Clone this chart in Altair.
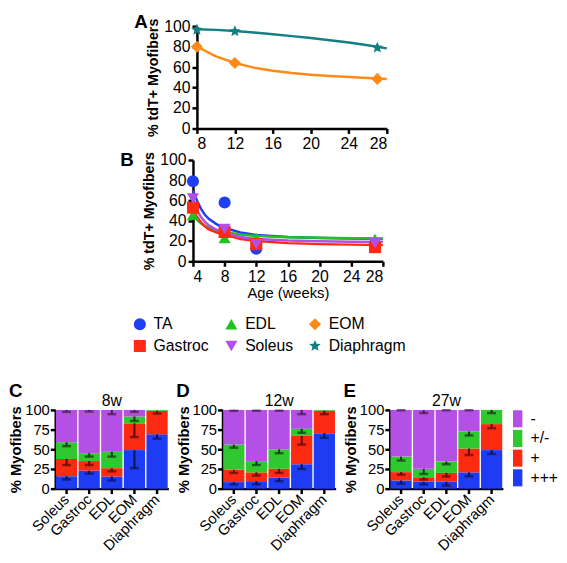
import altair as alt
import pandas as pd

FONT = "Liberation Sans"

# ---------------- Panel A (EOM, Diaphragm) ----------------
a_weeks = [8, 12, 27]
a_eom = [80, 64, 48.5]
a_dia = [96.5, 95, 79]
# fitted curves
a_curve_weeks = [8, 10, 12, 14, 16, 18, 20, 22, 24, 26, 28]
a_curve_eom = [80, 70.5, 64, 59.5, 56.5, 54.3, 52.6, 51.4, 50.3, 49.3, 48.3]
a_curve_dia = [97, 96.4, 95.3, 93.8, 92.2, 90.3, 88.4, 86.3, 84, 81.3, 78.3]

# ---------------- Panel B (TA, EDL, Gastroc, Soleus) ----------------
b_weeks = [4, 8, 12, 27]
b_ta = [79, 58, 12.5, 17]
b_edl = [46, 23, 23, 22]
b_gastroc = [53, 29, 17, 14]
b_soleus = [62, 32, 17, 18]
b_curve_weeks = [4, 4.5, 5, 5.5, 6, 7, 8, 10, 12, 16, 20, 24, 28]
b_curve_ta = [70, 60, 52, 46, 42, 36.5, 33, 28.5, 26, 24, 23, 22.5, 22]
b_curve_edl = [46, 41, 37.5, 35, 33, 30.5, 29, 26.5, 25, 23.8, 23.2, 22.8, 22.5]
b_curve_soleus = [60, 50, 44, 39, 35.5, 31, 28.5, 24, 22, 20.5, 19.8, 19.3, 19]
b_curve_gastroc = [52, 44, 38.5, 34.5, 31.5, 28.5, 26.5, 22, 20, 18, 17, 16.5, 16]

muscles = ["TA", "EDL", "EOM", "Gastroc", "Soleus", "Diaphragm"]
muscle_colors = ["#1f3ff5", "#1fc21f", "#ff8a1a", "#ff2a12", "#b44fe6", "#147f82"]
STAR = ("M0,-1L0.265,-0.364L0.951,-0.309L0.428,0.139L0.588,0.809L0,0.45"
        "L-0.588,0.809L-0.428,0.139L-0.951,-0.309L-0.265,-0.364Z")
muscle_shapes = ["circle", "triangle-up", "diamond", "square", "triangle-down", STAR]

# ---------------- Panels C-E (stacked bars) ----------------
bar_muscles = ["Soleus", "Gastroc", "EDL", "EOM", "Diaphragm"]
cats = ["+++", "+", "+/-", "-"]
cat_colors = ["#1f3cf5", "#fb2a10", "#2fc82f", "#b450e6"]
cat_dark = ["#0c1450", "#5a0a0a", "#0f3a10", "#4a1a5a"]

# segment sizes (%), per muscle, bottom (+++) to top (-)
w8_pos3 = [15.8, 22.8, 15.4, 49, 69]
w8_pos1 = [22, 12.2, 10.6, 34, 30]
w8_mid = [21.2, 10, 21, 8.7, 1]
w8_neg = [41, 55, 53, 8.3, 0]
w8_err = [[4.2, 3.8, 5, 23, 5.5], [7.8, 5, 4, 17.5, 3.6], [5, 4.3, 6.3, 5.7, 0], [2.5, 2, 5.4, 2.5, 0]]

w12_pos3 = [8.3, 9.5, 13.7, 31, 70.5]
w12_pos1 = [15.7, 11.2, 11.6, 36, 28.5]
w12_mid = [32, 14.3, 24.7, 9, 1]
w12_neg = [44, 65, 50, 24, 0]
w12_err = [[2.9, 4.1, 4.2, 6, 5.8], [4, 4.1, 5.3, 11, 4.4], [4, 5, 5, 5, 0], [1.2, 1, 1, 5.4, 0]]

w27_pos3 = [10.4, 8.7, 8.7, 20.7, 49]
w27_pos1 = [10.6, 5.8, 11.3, 30.3, 33]
w27_mid = [19.7, 10.8, 14.4, 21.6, 18]
w27_neg = [59.3, 74.7, 65.6, 27.4, 0]
w27_err = [[4.2, 3.3, 4.7, 4.9, 5], [3.2, 2.9, 4.6, 8.3, 5.2], [5, 6.6, 3.4, 5, 4], [0.4, 4, 0.4, 0.4, 0]]

IND = dict(color="independent", shape="independent", fill="independent", stroke="independent")

cscale = alt.Scale(domain=muscles, range=muscle_colors)
sscale = alt.Scale(domain=muscles, range=muscle_shapes)


def line_frame(weeks, series):
    rows = []
    for name, vals in series:
        for w, v in zip(weeks, vals):
            rows.append({"week": w, "pct": v, "muscle": name})
    return pd.DataFrame(rows)


def time_panel(pts, curve, xdom, xvals, letter, legend, xtitle, h, toff):
    x = alt.X("week:Q", scale=alt.Scale(domain=xdom, nice=False, zero=False),
              axis=alt.Axis(values=xvals, title=xtitle, titleFontWeight="normal",
                            titleFontSize=15, labelFontSize=16, titlePadding=2))
    y = alt.Y("pct:Q", scale=alt.Scale(domain=[0, 100], nice=False),
              axis=alt.Axis(values=[0, 20, 40, 60, 80, 100], title="% tdT+ Myofibers",
                            labelFontSize=16, titleFontSize=14.5, titleFontWeight="bold"))
    lines = alt.Chart(curve).mark_line(strokeWidth=2.5).encode(
        x=x, y=y, color=alt.Color("muscle:N", scale=cscale, legend=legend), detail="muscle:N")
    points = alt.Chart(pts).mark_point(filled=True, size=150, opacity=1).encode(
        x=x, y=y,
        color=alt.Color("muscle:N", scale=cscale, legend=legend),
        shape=alt.Shape("muscle:N", scale=sscale, legend=legend))
    return alt.layer(lines, points).properties(
        width=193, height=h,
        title=alt.TitleParams(letter, anchor="start", frame="bounds", fontSize=19,
                              fontWeight="bold", dx=-12, offset=toff))


dfA_pts = line_frame(a_weeks, [("EOM", a_eom), ("Diaphragm", a_dia)])
dfA_cur = line_frame(a_curve_weeks, [("EOM", a_curve_eom), ("Diaphragm", a_curve_dia)])
dfB_pts = line_frame(b_weeks, [("TA", b_ta), ("EDL", b_edl), ("Gastroc", b_gastroc), ("Soleus", b_soleus)])
dfB_cur = line_frame(b_curve_weeks, [("TA", b_curve_ta), ("EDL", b_curve_edl),
                                     ("Gastroc", b_curve_gastroc), ("Soleus", b_curve_soleus)])

legB = alt.Legend(orient="none", legendX=-62, legendY=159, columns=3, direction="horizontal",
                  title=None, symbolSize=150, labelFontSize=16, columnPadding=14, rowPadding=6,
                  labelOffset=6, symbolStrokeWidth=0)

chartA = time_panel(dfA_pts, dfA_cur, [8, 28], [8, 12, 16, 20, 24, 28], "A", None, None, 104, -14)
chartB = time_panel(dfB_pts, dfB_cur, [4, 28], [4, 8, 12, 16, 20, 24, 28], "B", legB,
                    "Age (weeks)", 103, -19)


def spacer(w):
    return alt.Chart(pd.DataFrame({"s": [0]})).mark_point(opacity=0).encode(
        x=alt.X("s:Q", axis=None), y=alt.Y("s:Q", axis=None)).properties(width=w, height=1)


rowA = alt.hconcat(spacer(80), chartA, spacing=0).resolve_scale(**IND)
rowB = alt.hconcat(spacer(66), chartB, spacing=0).resolve_scale(**IND)
upper = alt.vconcat(rowA, rowB, spacing=0).resolve_scale(**IND)


def bar_frame(segs, errs):
    rows = []
    for i, m in enumerate(bar_muscles):
        top = 0.0
        for k, c in enumerate(cats):
            v = segs[k][i]
            top += v
            if v <= 0:
                continue
            e = errs[k][i]
            rows.append({"muscle": m, "cat": c, "rank": k, "value": v, "top": top,
                         "low": top - e, "err": e})
    return pd.DataFrame(rows)


def bar_panel(df, tp, letter, legend):
    x = alt.X("muscle:N", sort=bar_muscles,
              scale=alt.Scale(paddingInner=0.06, paddingOuter=0.03),
              axis=alt.Axis(labelAngle=-45, labelAlign="right", labelBaseline="middle",
                            title=None, labelFontSize=15, labelPadding=3))
    yax = alt.Axis(values=[0, 25, 50, 75, 100], title="% Myofibers", labelFontSize=15,
                   titleFontSize=15, titleFontWeight="bold", titlePadding=1, labelPadding=1)
    ysc = alt.Scale(domain=[0, 100], nice=False)
    bars = alt.Chart(df).mark_bar().encode(
        x=x,
        y=alt.Y("value:Q", stack="zero", scale=ysc, axis=yax),
        color=alt.Color("cat:N", scale=alt.Scale(domain=cats, range=cat_colors), legend=legend),
        order=alt.Order("rank:Q"))
    edf = df[df["err"] > 0]
    rules = alt.Chart(edf).mark_rule(strokeWidth=2).encode(
        x=x, y=alt.Y("low:Q", scale=ysc, axis=yax), y2="top:Q",
        stroke=alt.Stroke("cat:N", scale=alt.Scale(domain=cats, range=cat_dark), legend=None))
    caps = alt.Chart(edf).mark_tick(thickness=2.5, size=9).encode(
        x=x, y=alt.Y("low:Q", scale=ysc, axis=yax),
        fill=alt.Fill("cat:N", scale=alt.Scale(domain=cats, range=cat_dark), legend=None))
    lay = alt.layer(bars, rules, caps).properties(
        width=115, height=80,
        title=alt.TitleParams(tp, fontSize=16, fontWeight="normal", anchor="middle", offset=-6))
    return alt.vconcat(lay, title=alt.TitleParams(letter, anchor="start", fontSize=19,
                                                  fontWeight="bold", offset=-8)
                       ).resolve_scale(**IND)


RECT = "M-0.55,-1H0.55V1H-0.55Z"
legE = alt.Legend(title=None, values=["-", "+/-", "+", "+++"], symbolType=RECT, symbolSize=300,
                  labelFontSize=16, rowPadding=2, offset=6, labelOffset=4, symbolStrokeWidth=0)

pC = bar_panel(bar_frame([w8_pos3, w8_pos1, w8_mid, w8_neg], w8_err), "8w", "C", None)
pD = bar_panel(bar_frame([w12_pos3, w12_pos1, w12_mid, w12_neg], w12_err), "12w", "D", None)
pE = bar_panel(bar_frame([w27_pos3, w27_pos1, w27_mid, w27_neg], w27_err), "27w", "E", legE)

bottom = alt.hconcat(pC, pD, pE, spacing=7).resolve_scale(**IND)

chart = alt.vconcat(upper, bottom, spacing=29).resolve_scale(**IND).properties(
    padding=0
).configure_axis(
    domainColor="black", domainWidth=2.5, tickColor="black", tickWidth=2.5, tickSize=5,
    labelColor="black", titleColor="black", labelFont=FONT, titleFont=FONT, grid=False,
    labelPadding=2, titlePadding=3
).configure_title(font=FONT, color="black").configure_legend(
    labelFont=FONT, labelColor="black"
).configure_view(stroke=None)

chart.save("out.html", embed_options={"renderer": "svg", "actions": False})
